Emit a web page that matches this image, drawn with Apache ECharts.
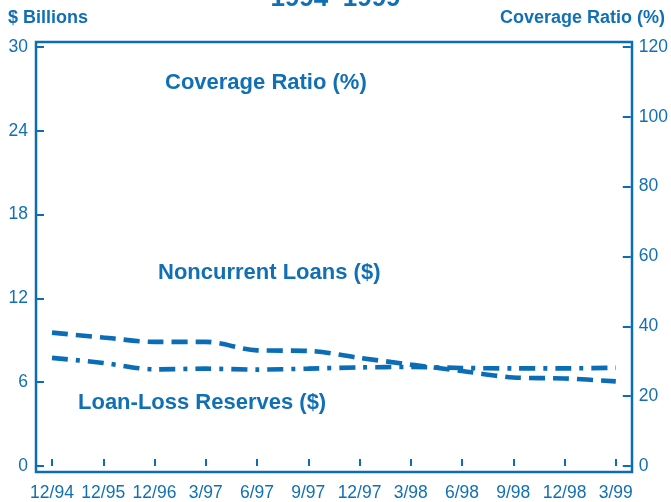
<!DOCTYPE html>
<html>
<head>
<meta charset="utf-8">
<script src="https://cdn.jsdelivr.net/npm/echarts@6/dist/echarts.min.js"></script>
<style>html,body{margin:0;padding:0;background:#fff;}#c{width:671px;height:502px;}</style>
</head>
<body>
<div id="c"></div>
<script>
var categories = ['12/94','12/95','12/96','3/97','6/97','9/97','12/97','3/98','6/98','9/98','12/98','3/99'];
var noncurrentLoans = [9.55, 9.20, 8.89, 8.89, 8.28, 8.24, 7.74, 7.26, 6.80, 6.34, 6.27, 6.06];
var loanLossReserves = [7.74, 7.38, 6.92, 6.97, 6.90, 6.97, 7.06, 7.09, 7.02, 6.99, 6.99, 7.04];
var leftTicks = [0, 30, 6];
var rightTicks = [0, 120, 20];

var BLUE = '#0a6db6';
var TXT = '#1170b5';
var FONT = '"Liberation Sans", Arial, sans-serif';

var chart = echarts.init(document.getElementById('c'), null, {renderer: 'canvas'});
chart.setOption({
  animation: false,
  backgroundColor: '#fff',
  grid: [
    {left: 52, right: 54, top: 47, bottom: 35, show: false},
    {left: 36, right: 39, top: 42, bottom: 30, show: true, borderColor: BLUE, borderWidth: 2.5, backgroundColor: 'transparent'}
  ],
  xAxis: [
    {
      type: 'category', gridIndex: 0, data: categories, boundaryGap: false, offset: 5,
      axisLine: {show: false},
      axisTick: {show: true, inside: true, length: 7, alignWithLabel: true, lineStyle: {color: BLUE, width: 2}},
      axisLabel: {color: TXT, fontFamily: FONT, fontSize: 17.5, margin: 13, interval: 0},
      splitLine: {show: false}
    },
    {type: 'value', gridIndex: 1, show: false}
  ],
  yAxis: [
    {
      type: 'value', gridIndex: 0, min: leftTicks[0], max: leftTicks[1], interval: leftTicks[2], offset: 16, position: 'left',
      axisLine: {show: false},
      axisTick: {show: true, inside: true, length: 8, lineStyle: {color: BLUE, width: 2}},
      axisLabel: {color: TXT, fontFamily: FONT, fontSize: 17.5, margin: 8},
      splitLine: {show: false}
    },
    {
      type: 'value', gridIndex: 0, min: rightTicks[0], max: rightTicks[1], interval: rightTicks[2], offset: 15, position: 'right',
      axisLine: {show: false},
      axisTick: {show: true, inside: true, length: 8, lineStyle: {color: BLUE, width: 2}},
      axisLabel: {color: TXT, fontFamily: FONT, fontSize: 17.5, margin: 8},
      splitLine: {show: false}
    },
    {type: 'value', gridIndex: 1, show: false}
  ],
  series: [
    {
      name: 'Noncurrent Loans ($)', type: 'line', xAxisIndex: 0, yAxisIndex: 0, data: noncurrentLoans,
      symbol: 'none', smooth: 0.3,
      lineStyle: {color: BLUE, width: 4.6, type: [16, 8], cap: 'butt'}
    },
    {
      name: 'Loan-Loss Reserves ($)', type: 'line', xAxisIndex: 0, yAxisIndex: 0, data: loanLossReserves,
      symbol: 'none', smooth: 0.3,
      lineStyle: {color: BLUE, width: 4.6, type: [16, 8, 4, 8], cap: 'butt'}
    }
  ],
  graphic: [
    {type: 'text', left: 'center', top: -14, style: {text: '1994\u20131999', fill: TXT, font: 'bold 26px ' + FONT}},
    {type: 'text', left: 8, top: 9, style: {text: '$ Billions', fill: TXT, font: 'bold 18px ' + FONT}},
    {type: 'text', right: 6, top: 9, style: {text: 'Coverage Ratio (%)', fill: TXT, font: 'bold 18px ' + FONT}},
    {type: 'text', left: 165, top: 72, style: {text: 'Coverage Ratio (%)', fill: TXT, font: 'bold 22px ' + FONT}},
    {type: 'text', left: 158, top: 262, style: {text: 'Noncurrent Loans ($)', fill: TXT, font: 'bold 22px ' + FONT}},
    {type: 'text', left: 78, top: 392, style: {text: 'Loan-Loss Reserves ($)', fill: TXT, font: 'bold 22px ' + FONT}}
  ]
});
</script>
</body>
</html>
